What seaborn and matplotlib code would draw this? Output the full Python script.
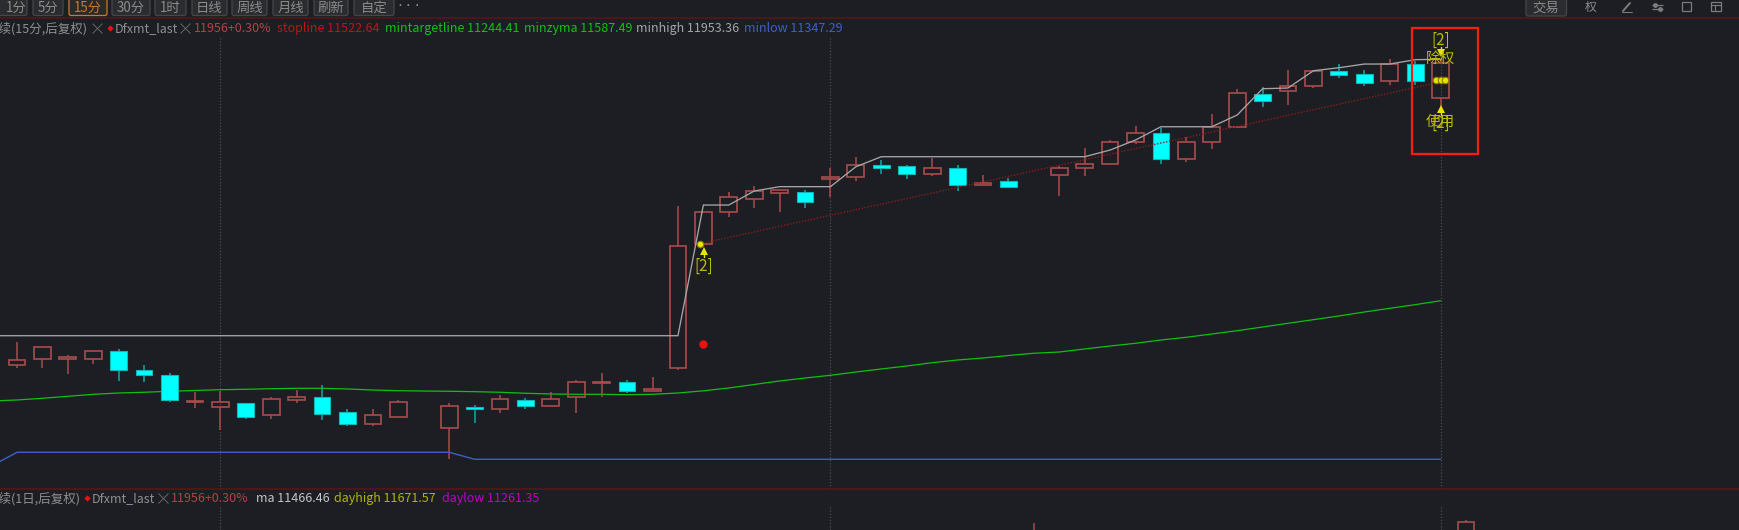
import numpy as np
import pandas as pd
import matplotlib
matplotlib.use('Agg')
import matplotlib.pyplot as plt
from matplotlib.patches import FancyBboxPatch, Rectangle
import seaborn as sns

# --- DATA (15 minute bars) ---
bar_idx = [0, 1, 2, 3, 4, 5, 6, 7, 8, 9, 10, 11, 12, 13, 14, 15, 17, 18, 19, 20, 21, 22, 23, 24, 25, 26, 27,
           28, 29, 30, 31, 32, 33, 34, 35, 36, 37, 38, 39, 41, 42, 43, 44, 45, 46, 47, 48, 49, 50, 51, 52, 53, 54, 55, 56]
bar_open = [11490.1, 11499.7, 11499.7, 11499.7, 11510.9, 11483.0, 11474.5, 11433.8, 11426.0, 11432.1, 11413.9, 11436.6,
            11441.6, 11418.5, 11400.3, 11411.3, 11395.1, 11426.0, 11423.0, 11437.1, 11428.0, 11441.2, 11462.4, 11464.8,
            11451.2, 11485.1, 11673.0, 11721.5, 11742.1, 11751.2, 11752.2, 11772.4, 11774.5, 11793.1, 11791.2, 11779.5,
            11788.6, 11762.4, 11768.4, 11777.5, 11788.1, 11795.1, 11828.0, 11841.6, 11802.7, 11828.0, 11851.1, 11900.2,
            11904.8, 11913.3, 11936.0, 11930.5, 11919.9, 11946.1, 11894.6]
bar_close = [11497.2, 11517.8, 11502.7, 11510.9, 11482.5, 11474.5, 11436.6, 11435.3, 11434.5, 11411.3, 11439.1, 11441.6,
             11415.9, 11400.3, 11413.9, 11434.5, 11428.5, 11423.0, 11439.1, 11428.0, 11439.1, 11464.8, 11464.8, 11451.2,
             11454.2, 11670.9, 11721.5, 11745.1, 11754.2, 11754.8, 11737.1, 11775.4, 11793.6, 11788.1, 11779.5, 11788.6,
             11762.4, 11765.9, 11759.8, 11788.1, 11795.1, 11828.4, 11841.6, 11802.7, 11828.4, 11851.1, 11902.7, 11890.1,
             11913.3, 11936.0, 11929.9, 11917.8, 11946.1, 11919.9, 11947.2]
bar_high = [11525.4, 11517.8, 11505.3, 11510.9, 11513.9, 11490.6, 11477.6, 11449.7, 11451.2, 11432.1, 11442.1, 11452.2,
            11460.3, 11423.9, 11423.9, 11437.1, 11432.1, 11429.1, 11444.7, 11440.1, 11449.2, 11467.4, 11477.6, 11467.4,
            11472.4, 11731.5, 11721.5, 11752.2, 11760.9, 11754.8, 11755.2, 11788.1, 11805.7, 11800.7, 11793.1, 11803.3,
            11793.1, 11778.0, 11773.4, 11791.2, 11818.9, 11831.0, 11852.2, 11849.6, 11835.1, 11869.9, 11907.8, 11910.8,
            11937.1, 11936.0, 11946.1, 11937.1, 11953.7, 11951.1, 11953.7]
bar_low = [11485.1, 11485.1, 11476.5, 11492.1, 11466.3, 11464.4, 11434.1, 11425.4, 11391.6, 11408.8, 11408.8, 11432.1,
           11406.3, 11397.7, 11397.7, 11411.3, 11347.3, 11402.7, 11417.9, 11423.0, 11428.0, 11417.9, 11441.2, 11448.2,
           11451.2, 11482.5, 11673.0, 11713.9, 11728.4, 11721.5, 11728.4, 11745.1, 11769.3, 11779.5, 11771.9, 11776.9,
           11754.2, 11762.4, 11759.8, 11746.6, 11776.9, 11792.7, 11825.4, 11795.1, 11797.7, 11817.8, 11850.2, 11881.4,
           11884.5, 11910.2, 11924.9, 11912.8, 11914.8, 11914.8, 11881.4]

minhigh_idx = [-1, 26, 27, 28, 29, 30, 32, 33, 34, 42, 43, 44, 45, 47, 48, 49, 50, 51, 52, 53, 54, 55, 56]
minhigh = [11534.5, 11534.5, 11732.5, 11732.5, 11753.7, 11760.3, 11760.3, 11790.5, 11805.7, 11805.7, 11815.8, 11831.0,
           11851.1, 11851.1, 11868.9, 11908.7, 11909.8, 11936.0, 11940.5, 11946.1, 11946.1, 11952.7, 11953.36]

minzyma_idx = list(range(-1, 57))
minzyma = [11435.6, 11437.1, 11439.7, 11442.7, 11445.7, 11447.7, 11448.8, 11450.3, 11451.5, 11452.7, 11453.3, 11454.2,
           11454.8, 11454.8, 11453.8, 11452.2, 11451.2, 11450.7, 11450.3, 11449.7, 11448.8, 11447.3, 11446.2, 11445.7,
           11445.7, 11445.1, 11445.7, 11447.7, 11451.0, 11455.3, 11460.6, 11465.9, 11470.4, 11474.5, 11479.5, 11484.1,
           11488.6, 11493.6, 11497.7, 11500.7, 11504.5, 11507.9, 11509.8, 11514.4, 11518.9, 11523.0, 11528.0, 11532.1,
           11537.1, 11542.1, 11547.7, 11553.3, 11558.8, 11564.4, 11570.4, 11576.0, 11581.5, 11587.49]

minlow_idx = [-1, 0, 17, 18, 56]
minlow = [11337.1, 11357.9, 11357.9, 11347.29, 11347.29]

trend_idx = [27, 56]
trend = [11675.0, 11918.9]

stop_idx = [27]
stop_price = [11522.64]
signal_idx = [26.88, 55.82, 56.0, 56.17]
signal_price = [11673.5, 11922.0, 11922.0, 11921.5]
day_sep = [8, 32, 56]

# daily panel at the bottom, only the top of two bars shows
day_idx = [40, 57]
day_top = [11943, 11956]
day_high = [11943, 11973]

# --- TEXT ---
periods = ['1分', '5分', '15分', '30分', '1时', '日线', '周线', '月线', '刷新', '自定']
period_left = [-6, 32, 68, 111, 154, 191, 231, 272, 313, 353]
period_right = [28, 64, 108, 151, 187, 228, 268, 309, 349, 395]

legend_top = [('stopline 11522.64', 277, '#c21414'), ('mintargetline 11244.41', 385, '#12c212'),
              ('minzyma 11587.49', 524, '#12c212'), ('minhigh 11953.36', 636, '#a4a4a4'),
              ('minlow 11347.29', 744, '#3f5ecc')]
legend_bottom = [('ma 11466.46', 256, '#c4c4c4'), ('dayhigh 11671.57', 334.5, '#b4b400'),
                 ('daylow 11261.35', 442, '#c400c4')]

BG = '#1c1e23'
RED = '#a84c4c'
CYAN = '#00ffff'
YELLOW = '#e6e600'
OLIVE = '#bcbc00'
BAR_W = 0.66


def draw_bars(ax, idx, o, c, h, l):
    df = pd.DataFrame({'idx': idx, 'open': o, 'close': c, 'high': h, 'low': l})
    df['top'] = df[['open', 'close']].max(axis=1)
    df['bot'] = df[['open', 'close']].min(axis=1)
    up = df[df['close'] >= df['open']]
    down = df[df['close'] < df['open']]
    ax.vlines(up['idx'], up['top'], up['high'], color=RED, lw=1.1, zorder=3)
    ax.vlines(up['idx'], up['low'], up['bot'], color=RED, lw=1.1, zorder=3)
    ax.bar(up['idx'], up['top'] - up['bot'], bottom=up['bot'], width=BAR_W, facecolor='none',
           edgecolor=RED, lw=1.2, zorder=3)
    ax.vlines(down['idx'], down['low'], down['high'], color='#12a8a8', lw=1.1, zorder=3)
    ax.bar(down['idx'], down['top'] - down['bot'], bottom=down['bot'], width=BAR_W, facecolor=CYAN,
           edgecolor='#10b8b8', lw=0.8, zorder=3.5)


sns.set_theme(style='dark', rc={'axes.facecolor': BG, 'figure.facecolor': BG})
plt.rcParams['font.family'] = ['Noto Sans CJK SC', 'DejaVu Sans']

fig = plt.figure(figsize=(17.39, 5.3), dpi=100)
ax = fig.add_axes([0, 41.3 / 530, 1, 470.4 / 530])
ax_day = fig.add_axes([0, 0, 1, 41.3 / 530])
top = fig.add_axes([0, 0, 1, 1])  # pixel overlay for the app chrome

# --- MAIN PANEL ---
for d in day_sep:
    ax.axvline(d, ymax=0.962, color='#4e4e4e', ls=(0, (1, 1.5)), lw=0.9, zorder=1)
sns.lineplot(x=minzyma_idx, y=minzyma, ax=ax, color='#10c010', lw=0.9, estimator=None, zorder=2)
draw_bars(ax, bar_idx, bar_open, bar_close, bar_high, bar_low)
sns.lineplot(x=trend_idx, y=trend, ax=ax, color='#8a1c1c', lw=1.0, ls=(0, (1, 1.2)), estimator=None, zorder=4)
sns.lineplot(x=minhigh_idx, y=minhigh, ax=ax, color='#a6a6a6', lw=0.95, estimator=None, zorder=4)
sns.lineplot(x=minlow_idx, y=minlow, ax=ax, color='#3f5ecc', lw=1.0, estimator=None, zorder=4)
sns.scatterplot(x=stop_idx, y=stop_price, ax=ax, color='#f01010', s=36, linewidth=0, zorder=5)
sns.scatterplot(x=signal_idx, y=signal_price, ax=ax, color=YELLOW, edgecolor='#8a7a00', s=22, linewidth=0.8, zorder=6)
ax.set_xlim(-0.669, 67.74)
ax.set_ylim(11302.7, 12015.4)
ax.set_axis_off()

# --- DAILY PANEL ---
for d in day_sep:
    ax_day.axvline(d, ymax=0.58, color='#4e4e4e', ls=(0, (1, 1.5)), lw=0.9, zorder=1)
ax_day.vlines(day_idx, day_top, day_high, color=RED, lw=1.1)
ax_day.vlines(day_idx[0], 11800, day_top[0], color=RED, lw=1.1)
ax_day.bar(day_idx[1], 200, bottom=day_top[1] - 200, width=BAR_W, facecolor='none', edgecolor=RED, lw=1.2)
ax_day.set_xlim(-0.669, 67.74)
ax_day.set_ylim(11873, 12286)
ax_day.set_axis_off()

# --- CHROME (pixel coordinates) ---
top.set_xlim(0, 1739)
top.set_ylim(530, 0)
top.set_axis_off()
top.patch.set_alpha(0)
FS = 9.0
FS_BTN = 9.6

top.hlines([18.3, 488.7], 0, 1739, color='#5e1414', lw=1.1)

for name, x0, x1 in zip(periods, period_left, period_right):
    col = '#c87a28' if name == '15分' else '#8c8c8c'
    edge = '#c87a28' if name == '15分' else '#464646'
    face = '#2c2a28' if name == '15分' else '#2a2c30'
    top.add_patch(FancyBboxPatch((x0 + 1, -4), x1 - x0 - 2, 19.5, boxstyle='round,pad=0,rounding_size=2',
                                 fc=face, ec=edge, lw=0.9))
    top.text((x0 + x1) / 2 if x0 > 0 else 16, 8, name, color=col, fontsize=FS_BTN, ha='center', va='center')
top.text(409, 5, '···', color='#9a9a9a', fontsize=6.5, ha='center', va='center')

top.add_patch(FancyBboxPatch((1526, -4), 40.5, 20, boxstyle='round,pad=0,rounding_size=2',
                             fc='#2a2c30', ec='#464646', lw=0.9))
top.text(1546, 8, '交易', color='#8c8c8c', fontsize=FS_BTN, ha='center', va='center')
top.text(1590.5, 7, '权', color='#8c8c8c', fontsize=8.5, ha='center', va='center')
# toolbar icons
top.plot([1623, 1630], [11, 3], color='#7c7c7c', lw=1.4)
top.plot([1622, 1632], [11.5, 11.5], color='#7c7c7c', lw=0.7)
top.hlines([4.5, 8.5], 1652, 1663, color='#7c7c7c', lw=0.9)
top.plot([1655, 1660], [4.5, 8.5], 'o', color='#7c7c7c', ms=2.5)
top.add_patch(Rectangle((1682, 2), 9, 9, fc='none', ec='#7c7c7c', lw=0.9))
top.add_patch(Rectangle((1711, 2), 9.5, 9, fc='none', ec='#7c7c7c', lw=0.9))
top.hlines(5, 1711, 1720.5, color='#7c7c7c', lw=0.8)
top.vlines(1714.5, 5, 11, color='#7c7c7c', lw=0.8)

# legend rows
top.text(88, 28.5, '连续(15分,后复权)', color='#8f8f8f', fontsize=FS, ha='right', va='center')
top.plot([97, 185], [28, 28], 'x', color='#666666', ms=6.5, mew=0.7)
top.plot(109.7, 28, 'D', color='#f01010', ms=3.2, mew=0)
top.text(114.7, 28.5, 'Dfxmt_last', color='#8f8f8f', fontsize=FS, va='center')
top.text(193.7, 28.5, '11956+0.30%', color='#b04444', fontsize=FS, va='center')
for label, x, col in legend_top:
    top.text(x, 28.5, label, color=col, fontsize=FS, va='center')

top.text(81, 498.5, '连续(1日,后复权)', color='#8f8f8f', fontsize=FS, ha='right', va='center')
top.plot(87, 498, 'D', color='#f01010', ms=3.2, mew=0)
top.text(92, 498.5, 'Dfxmt_last', color='#8f8f8f', fontsize=FS, va='center')
top.plot(163, 498, 'x', color='#666666', ms=6.5, mew=0.7)
top.text(171, 498.5, '11956+0.30%', color='#b04444', fontsize=FS, va='center')
for label, x, col in legend_bottom:
    top.text(x, 498.5, label, color=col, fontsize=FS, va='center')

# signal arrows and labels
top.plot([703.7, 703.7], [250, 257], color=YELLOW, lw=1.0)
top.plot(703.7, 251, '^', color=YELLOW, ms=5.5, mew=0)
top.text(703.7, 266, '[2]', color=OLIVE, fontsize=11, ha='center', va='center')

top.text(1440.7, 40, '[2]', color=OLIVE, fontsize=11, ha='center', va='center')
top.plot([1440.7, 1440.7], [47, 54], color=YELLOW, lw=1.0)
top.plot(1440.7, 53, 'v', color=YELLOW, ms=5.5, mew=0)
top.text(1440.7, 58.5, '除权', color=OLIVE, fontsize=10.5, ha='center', va='center')
top.plot([1440.7, 1440.7], [108, 115], color=YELLOW, lw=1.0)
top.plot(1440.7, 109, '^', color=YELLOW, ms=5.5, mew=0)
top.text(1440.7, 122, '使用', color=OLIVE, fontsize=10.5, ha='center', va='center')
top.text(1440.7, 123, '[2]', color=OLIVE, fontsize=11, ha='center', va='center')

top.add_patch(Rectangle((1412, 27.5), 66, 126, fc='none', ec='#f5200f', lw=1.6))

fig.savefig('out.png', dpi=100, facecolor=BG)
